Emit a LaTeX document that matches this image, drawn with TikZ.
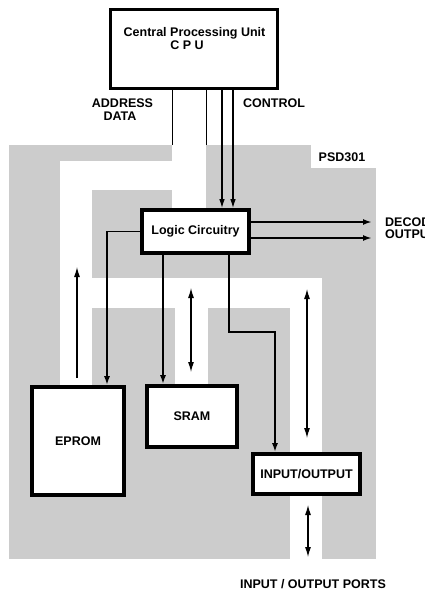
\documentclass[tikz,border=0pt]{standalone}
\usepackage{fontspec}
\setmainfont{Liberation Sans}
\usetikzlibrary{arrows.meta}
\definecolor{chipgrey}{gray}{0.80}
\newcommand\lblfont{\fontsize{12.5}{13}\selectfont\bfseries}
\begin{document}
\begin{tikzpicture}[x=1pt,y=-1pt,
  box/.style={draw=black, line width=3.6pt, fill=white, inner sep=0pt, font=\lblfont, align=center},
  txt/.style={font=\lblfont, inner sep=0pt, anchor=base},
  wire/.style={line width=0.9pt},
  ctrl/.style={line width=1.3pt, -{Latex[length=9pt,width=5.5pt]}},
  sig/.style={line width=1.8pt, -{Latex[length=9pt,width=6pt]}},
  busarrow/.style={line width=1.1pt, -{Latex[length=10pt,width=6pt]}},
  busboth/.style={line width=1.1pt, {Latex[length=10pt,width=6pt]}-{Latex[length=10pt,width=6pt]}},
]
\useasboundingbox (0,0) rectangle (424,591);

% chip area (stippled grey) and white bus channels
\fill[chipgrey] (9,145) rectangle (376,559);
\fill[white] (172,145) rectangle (206,209);
\fill[white] (60,161) rectangle (206,190);
\fill[white] (60,161) rectangle (92,386);
\fill[white] (60,278) rectangle (322,308);
\fill[white] (175,278) rectangle (208,385);
\fill[white] (290,278) rectangle (322,559);
\fill[white] (311,145) rectangle (376,168);

% coordinates
\coordinate (adA) at (172,145);
\coordinate (adB) at (206,145);
\coordinate (ctlA) at (222,0);
\coordinate (ctlB) at (233,0);
\coordinate (epx) at (107,0);
\coordinate (srx) at (163,0);
\coordinate (bend) at (229,332);
\coordinate (iox) at (275,0);
\coordinate (decA) at (372,222);
\coordinate (decB) at (372,238);
\coordinate (busL) at (77,267);
\coordinate (busStop) at (77,378);
\coordinate (srA) at (191,288);
\coordinate (srB) at (191,372);
\coordinate (ioA) at (307,289);
\coordinate (ioB) at (307,438);
\coordinate (portA) at (308,505);
\coordinate (portB) at (308,557);

% boxes
\node[box, line width=3pt, minimum width=167pt, minimum height=79pt] (cpu) at (194,49) {};
\node[box, minimum width=107pt, minimum height=43pt] (logic) at (195.5,231.5) {Logic Circuitry};
\node[box, minimum width=92pt, minimum height=108pt] (eprom) at (78,441) {EPROM};
\node[box, minimum width=90pt, minimum height=61pt] (sram) at (192,416.5) {SRAM};
\node[box, minimum width=107pt, minimum height=40pt] (io) at (306.5,474) {INPUT/OUTPUT};

% texts
\node[txt] (cpuA) at (194.5,37) {Central Processing Unit};
\node[txt] (cpuB) at (187,50) {C P U};
\node[txt] (addr) at (122.5,108) {ADDRESS};
\node[txt] (data) at (120,121) {DATA};
\node[txt] (ctrltxt) at (274,107) {CONTROL};
\node[txt] (psd) at (342,161) {PSD301};
\node[txt, anchor=base west] (decode) at (385,226) {DECODE};
\node[txt, anchor=base west] (outputs) at (385,238.5) {OUTPUTS};
\node[txt] (ports) at (313,588) {INPUT / OUTPUT PORTS};

% CPU bus lines
\draw[wire] (cpu.south -| adA) -- (adA);
\draw[wire] (cpu.south -| adB) -- (adB);
\draw[ctrl] (cpu.south -| ctlA) -- (logic.north -| ctlA);
\draw[ctrl] (cpu.south -| ctlB) -- (logic.north -| ctlB);

% logic outputs
\draw[sig] (logic.west) -| (eprom.north -| epx);
\draw[sig] (logic.south -| srx) -- (sram.north -| srx);
\draw[sig] (logic.south -| bend) -- (bend) -| (io.north -| iox);
\draw[sig] (logic.east |- decA) -- (decA);
\draw[sig] (logic.east |- decB) -- (decB);

% bus arrows
\draw[busarrow] (busStop) -- (busL);
\draw[busboth] (srA) -- (srB);
\draw[busboth] (ioA) -- (ioB);
\draw[busboth] (portA) -- (portB);
\end{tikzpicture}
\end{document}
